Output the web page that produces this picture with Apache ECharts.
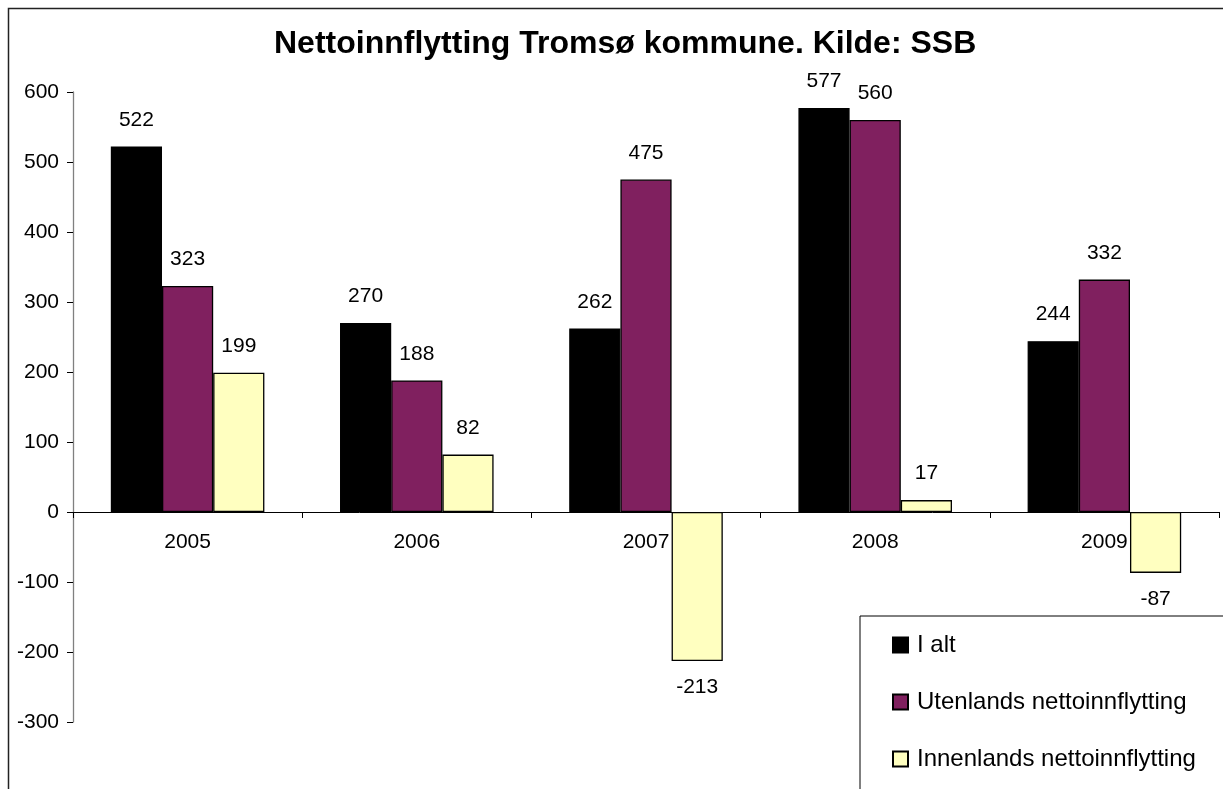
<!DOCTYPE html>
<html>
<head>
<meta charset="utf-8">
<title>Nettoinnflytting Tromsø kommune</title>
<script src="https://cdn.jsdelivr.net/npm/echarts@6/dist/echarts.min.js"></script>
<style>
  html, body { margin: 0; padding: 0; background: #fff; }
  #chart { width: 1223px; height: 789px; }
</style>
</head>
<body>
<div id="chart"></div>
<script>
// data
var years = ['2005', '2006', '2007', '2008', '2009'];
var iAlt = [522, 270, 262, 577, 244];
var utenlands = [323, 188, 475, 560, 332];
var innenlands = [199, 82, -213, 17, -87];

var FONT = '"Liberation Sans", Arial, sans-serif';

// negative bars get their label under the bar
function withLabels(values) {
  return values.map(function (v) {
    return v < 0 ? { value: v, label: { position: 'bottom' } } : v;
  });
}

function barSeries(name, values, color) {
  return {
    name: name,
    type: 'bar',
    barGap: 0,
    barCategoryGap: '33%',
    itemStyle: { color: color, borderColor: '#000', borderWidth: 1.3 },
    label: {
      show: true,
      position: 'top',
      distance: 16,
      color: '#000',
      fontFamily: FONT,
      fontSize: 21
    },
    emphasis: { disabled: true },
    data: withLabels(values)
  };
}

var chart = echarts.init(document.getElementById('chart'));
chart.setOption({
  backgroundColor: '#fff',
  animation: false,
  title: {
    text: 'Nettoinnflytting Tromsø kommune. Kilde: SSB',
    left: 269,
    top: 23,
    textStyle: { fontFamily: FONT, fontSize: 32, fontWeight: 'bold', color: '#000' }
  },
  // outer chart frame, cut off at right and bottom like the original
  graphic: [{
    type: 'rect',
    left: 6,
    top: 6,
    shape: { width: 1400, height: 900 },
    style: { fill: null, stroke: '#222', lineWidth: 1.5 },
    silent: true
  }],
  legend: {
    orient: 'vertical',
    left: 860,
    top: 616,
    height: 400,
    padding: [17, 60, 40, 32],
    itemGap: 33,
    itemWidth: 15,
    itemHeight: 15,
    icon: 'rect',
    borderColor: '#000',
    borderWidth: 1,
    backgroundColor: '#fff',
    textStyle: { fontFamily: FONT, fontSize: 24, color: '#000', padding: [0, 0, 0, 4] },
    data: ['I alt', 'Utenlands nettoinnflytting', 'Innenlands nettoinnflytting']
  },
  grid: { left: 73, right: 4, top: 92, bottom: 67 },
  xAxis: {
    type: 'category',
    data: years,
    offset: -210,
    axisLine: { onZero: false, lineStyle: { color: '#000', width: 1 } },
    axisTick: { show: true, length: 6, lineStyle: { color: '#000' } },
    axisLabel: { color: '#000', fontFamily: FONT, fontSize: 21, margin: 20 }
  },
  yAxis: {
    type: 'value',
    min: -300,
    max: 600,
    interval: 100,
    splitLine: { show: false },
    axisLine: { show: true, lineStyle: { color: '#808080', width: 1.3 } },
    axisTick: { show: true, length: 6, lineStyle: { color: '#000' } },
    axisLabel: { color: '#000', fontFamily: FONT, fontSize: 21, margin: 14 }
  },
  series: [
    barSeries('I alt', iAlt, '#000000'),
    barSeries('Utenlands nettoinnflytting', utenlands, '#80205f'),
    barSeries('Innenlands nettoinnflytting', innenlands, '#ffffc0')
  ]
});
</script>
</body>
</html>
